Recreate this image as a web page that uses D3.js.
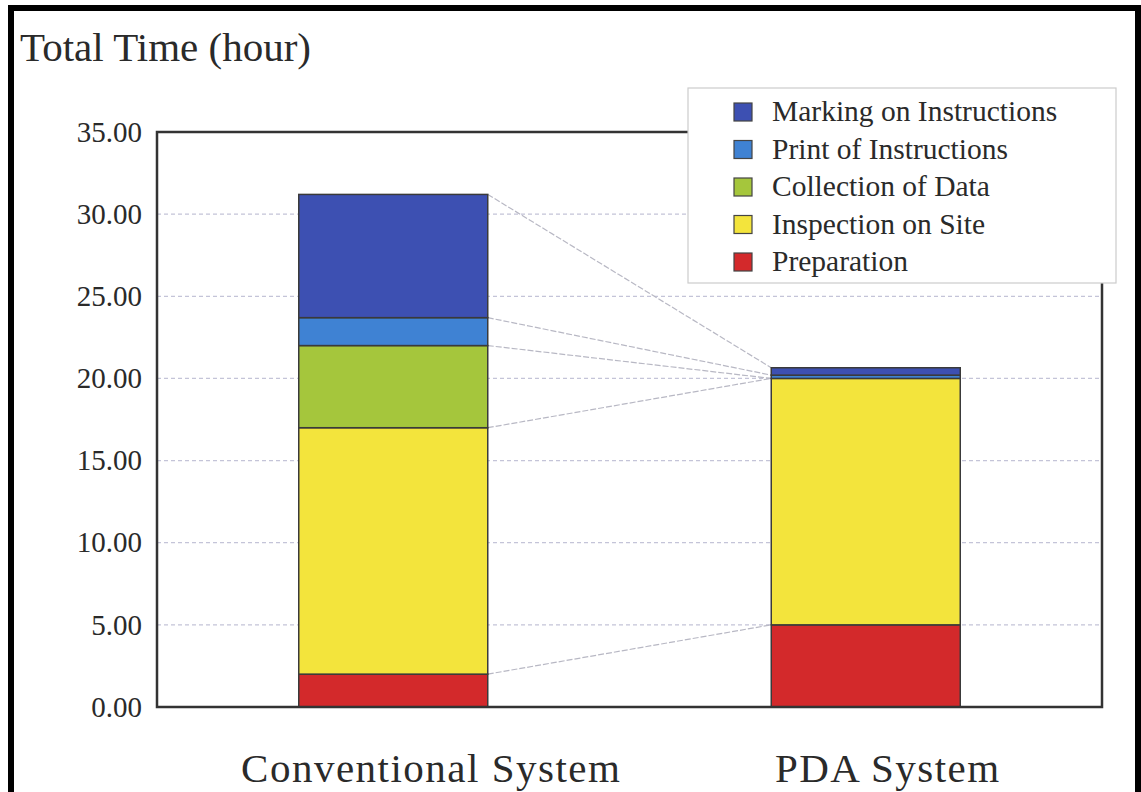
<!DOCTYPE html>
<html>
<head>
<meta charset="utf-8">
<script src="https://cdn.jsdelivr.net/npm/d3@7"></script>
<style>
  body { margin: 0; background: #fff; }
  svg { display: block; font-family: "Liberation Serif", "DejaVu Serif", serif; }
</style>
</head>
<body>
<div id="chart"></div>
<script>
// categories on the x axis
const categories = ["Conventional System", "PDA System"]
// stack keys, bottom to top
const seriesNames = ["Preparation", "Inspection on Site", "Collection of Data", "Print of Instructions", "Marking on Instructions"]
// hours per category, same order as categories
const preparation = [2.0, 5.0]
const inspection = [15.0, 15.0]
const collection = [5.0, 0.0]
const printInstr = [1.7, 0.2]
const marking = [7.5, 0.45]
const yTicks = [0, 5, 10, 15, 20, 25, 30, 35]

const seriesValues = [preparation, inspection, collection, printInstr, marking]
const seriesColors = ["#d3292b", "#f3e43c", "#a5c63c", "#3f82d3", "#3d50b2"]

const width = 1141
const height = 792
const marginTop = 132
const marginRight = 39
const marginBottom = 85
const marginLeft = 157

// table for d3.stack
const table = categories.map((c, i) => {
    const row = {category: c}
    seriesNames.forEach((s, k) => { row[s] = seriesValues[k][i] })
    return row
})

const series = d3.stack().keys(seriesNames)(table)

const xScale = d3.scaleBand(categories, [marginLeft, width - marginRight]).padding(0)
const barWidth = xScale.bandwidth() * 0.4
const barX = c => xScale(c) + (xScale.bandwidth() - barWidth) / 2
const yScale = d3.scaleLinear([0, 35], [height - marginBottom, marginTop])
const color = d3.scaleOrdinal(seriesNames, seriesColors)

const svg = d3.select("#chart").append("svg")
    .attr("width", width)
    .attr("height", height)
    .attr("viewBox", [0, 0, width, height])

// gridlines
svg.append("g")
    .selectAll("line")
    .data(yTicks.filter(t => t > 0 && t < 35))
    .join("line")
    .attr("x1", marginLeft)
    .attr("x2", width - marginRight)
    .attr("y1", d => yScale(d))
    .attr("y2", d => yScale(d))
    .attr("stroke", "#c4c4d8")
    .attr("stroke-width", 1.2)
    .attr("stroke-dasharray", "4,3")

// y tick labels
const yAxis = d3.axisLeft(yScale).tickValues(yTicks).tickFormat(d3.format(".2f")).tickSize(0).tickPadding(15)
svg.append("g")
    .attr("transform", `translate(${marginLeft},0)`)
    .call(yAxis)
    .call(g => g.select(".domain").remove())
    .call(g => g.selectAll("text")
        .attr("font-family", "Liberation Serif")
        .attr("font-size", 29)
        .attr("fill", "#2a2a2a"))

// connectors between the two stacks
const c0 = categories[0], c1 = categories[1]
svg.append("g")
    .selectAll("line")
    .data(series)
    .join("line")
    .attr("x1", barX(c0) + barWidth)
    .attr("y1", s => yScale(s[0][1]))
    .attr("x2", barX(c1))
    .attr("y2", s => yScale(s[1][1]))
    .attr("stroke", "#b8b8c4")
    .attr("stroke-width", 1.2)
    .attr("stroke-dasharray", "6,2")

// stacked bars
svg.append("g")
    .selectAll("g")
    .data(series)
    .join("g")
    .attr("fill", s => color(s.key))
    .selectAll("rect")
    .data(s => s)
    .join("rect")
    .attr("x", d => barX(d.data.category))
    .attr("y", d => yScale(d[1]))
    .attr("height", d => yScale(d[0]) - yScale(d[1]))
    .attr("width", barWidth)
    .attr("stroke", "#3a3a3a")
    .attr("stroke-width", d => d[1] - d[0] > 0 ? 1.5 : 0)

// plot frame
svg.append("rect")
    .attr("x", marginLeft)
    .attr("y", marginTop)
    .attr("width", width - marginLeft - marginRight)
    .attr("height", height - marginTop - marginBottom)
    .attr("fill", "none")
    .attr("stroke", "#333")
    .attr("stroke-width", 2.5)

// x labels (sit a little right of the bars in the original)
svg.append("g")
    .selectAll("text")
    .data(categories)
    .join("text")
    .attr("x", (d, i) => xScale(d) + xScale.bandwidth() / 2 + (i === 0 ? 38 : 22))
    .attr("y", 782)
    .attr("text-anchor", "middle")
    .attr("font-size", 41)
    .attr("letter-spacing", 1.5)
    .attr("fill", "#2a2a2a")
    .text(d => d)

// y title
svg.append("text")
    .attr("x", 20)
    .attr("y", 61)
    .attr("font-size", 41)
    .attr("fill", "#2a2a2a")
    .text("Total Time (hour)")

// legend, top entry first
const legend = svg.append("g").attr("transform", "translate(688,88)")
legend.append("rect")
    .attr("width", 428)
    .attr("height", 195)
    .attr("fill", "#fff")
    .attr("stroke", "#ccc")
    .attr("stroke-width", 1.2)
const items = legend.selectAll("g")
    .data(seriesNames.slice().reverse())
    .join("g")
    .attr("transform", (d, i) => `translate(46,${24 + i * 37.5})`)
items.append("rect")
    .attr("x", 0)
    .attr("y", -9)
    .attr("width", 18)
    .attr("height", 18)
    .attr("fill", d => color(d))
    .attr("stroke", "#444")
    .attr("stroke-width", 1.2)
items.append("text")
    .attr("x", 38)
    .attr("y", 9)
    .attr("font-size", 29.5)
    .attr("fill", "#2a2a2a")
    .text(d => d)

// outer black frame (no bottom edge in the original)
svg.append("path")
    .attr("d", `M11,${height} V8 H1138 V${height}`)
    .attr("fill", "none")
    .attr("stroke", "#000")
    .attr("stroke-width", 6)
</script>
</body>
</html>
